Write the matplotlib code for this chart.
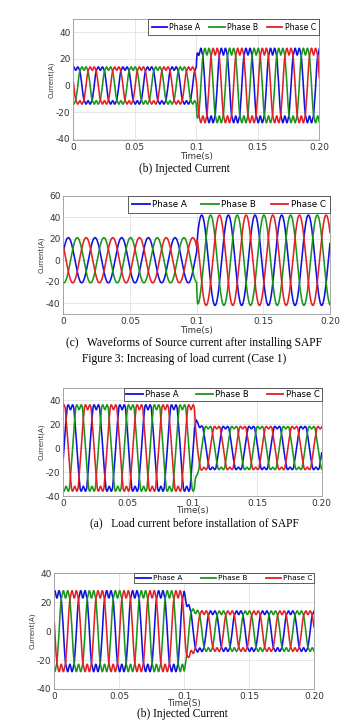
import numpy as np
import matplotlib.pyplot as plt

plt.rcParams["axes.unicode_minus"] = False

# waveform values (peak amperes, 50 Hz, load step at 0.1 s)
freq = 50.0
t_end = 0.2
amp_before = [14, 21, 36, 28]
amp_after = [28, 42, 18, 14]
t_change = [0.1, 0.1, 0.1015, 0.1]
tau = [0.0005, 0.0003, 0.0015, 0.003]
phase0_deg = [54, 22, -9, 54]
flat_factor = [2.0, 1.0, 1.5, 2.0]
ripple = [0.10, 0.0, 0.06, 0.10]

phase_names = ["Phase A", "Phase B", "Phase C"]
phase_shift_deg = [0, -120, 120]
phase_colors = ["#1010e0", "#1a961a", "#e41f26"]

y_limits = [(-41, 50), (-50, 60), (-40, 50), (-40, 40)]
y_ticks = [[-40, -20, 0, 20, 40], [-40, -20, 0, 20, 40, 60],
           [-40, -20, 0, 20, 40], [-40, -20, 0, 20, 40]]
x_ticks = [0, 0.05, 0.1, 0.15, 0.2]
x_tick_labels = ["0", "0.05", "0.1", "0.15", "0.20"]
x_labels = ["Time(s)", "Time(s)", "Time(s)", "Time(S)"]
y_label = "Current(A)"

captions = [
    ("(b) Injected Current", 184, 169),
    ("(c)   Waveforms of Source current after installing SAPF", 194, 343),
    ("Figure 3: Increasing of load current (Case 1)", 184, 359),
    ("(a)   Load current before installation of SAPF", 194, 523),
    ("(b) Injected Current", 182, 714),
]

W, H = 356, 726
# axes boxes in pixels: left, top, right, bottom
rects_px = [(73.3, 19, 319.3, 140), (63.3, 195.7, 330, 314),
            (63.3, 388, 321.7, 496), (54.3, 573.3, 314, 689)]
legend_left_px = [148, 127.7, 124, 134]
legend_font = [5.6, 6.3, 6.0, 5.3]
legend_pad = [0.45, 0.5, 0.25, 0.25]
xlabel_pad = [0.5, 0.5, -1.0, -1.0]


def phase_current(t, k, shift):
    theta = 2 * np.pi * freq * t + np.radians(phase0_deg[k] + shift)
    base = np.clip(flat_factor[k] * np.sin(theta), -1, 1)
    wave = base * (1 + ripple[k] * np.cos(6 * theta)) / (1 + ripple[k])
    amp = np.where(t < t_change[k], amp_before[k],
                   amp_after[k] + (amp_before[k] - amp_after[k])
                   * np.exp(-np.clip(t - t_change[k], 0, None) / tau[k]))
    return amp * wave


t = np.linspace(0, t_end, 6001)

fig = plt.figure(figsize=(W / 100, H / 100), dpi=100)

for k, (l, tp, r, b) in enumerate(rects_px):
    ax = fig.add_axes([l / W, 1 - b / H, (r - l) / W, (b - tp) / H])
    for name, shift, col in zip(phase_names, phase_shift_deg, phase_colors):
        ax.plot(t, phase_current(t, k, shift), color=col, lw=1.15, label=name)
    ax.set_xlim(0, t_end)
    ax.set_ylim(*y_limits[k])
    ax.set_xticks(x_ticks)
    ax.set_xticklabels(x_tick_labels)
    ax.set_yticks(y_ticks[k])
    ax.grid(True, color="#dcdcdc", lw=0.5)
    ax.tick_params(length=0, labelsize=6.5, labelcolor="#333333", pad=2)
    for s in ax.spines.values():
        s.set_color("#999999")
        s.set_linewidth(0.6)
    ax.set_xlabel(x_labels[k], fontsize=6.3, color="#333333", labelpad=xlabel_pad[k])
    ax.set_ylabel(y_label, fontsize=5.0, color="#333333", labelpad=1)
    x0 = (legend_left_px[k] - l) / (r - l)
    leg = ax.legend(loc="upper right", bbox_to_anchor=(x0, 0, 1 - x0, 1),
                    mode="expand", ncol=3, fontsize=legend_font[k],
                    borderaxespad=0, fancybox=False, framealpha=1,
                    handlelength=2.0, handletextpad=0.3, borderpad=legend_pad[k],
                    columnspacing=0.8)
    leg.get_frame().set_edgecolor("#444444")
    leg.get_frame().set_linewidth(0.6)
    for line in leg.get_lines():
        line.set_linewidth(1.3)

for text, xc, yc in captions:
    fig.text(xc / W, 1 - yc / H, text, ha="center", va="center",
             family="Liberation Serif", fontsize=8.3)

fig.savefig("out.png", dpi=100)
